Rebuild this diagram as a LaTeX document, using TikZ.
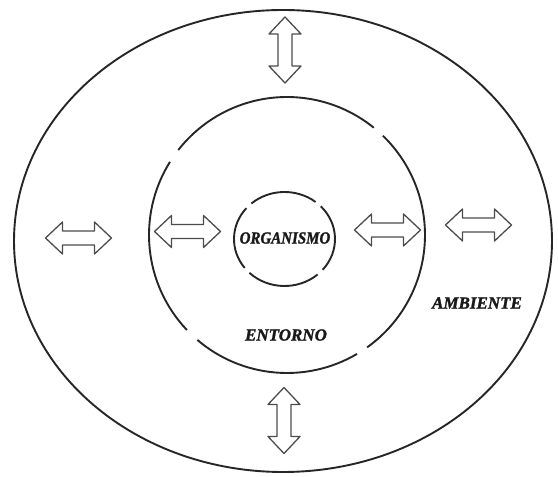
\documentclass[tikz,border=0pt]{standalone}
\usepackage{fontspec}
\setmainfont{Liberation Serif}
\newfontfamily\lblfont[FakeBold=1.6]{Liberation Serif Bold Italic}
\usetikzlibrary{calc}
\begin{document}
\begin{tikzpicture}[x=1pt,y=1pt,
  ring/.style={draw=black!85, line width=1.9pt},
  label/.style={font=\lblfont\fontsize{17}{17}\selectfont, text=black!90, inner sep=0pt},
  hdarrow/.pic={
    \draw[draw=black!70, line width=1.3pt, line join=round, fill=white]
      (-33,0) -- (-16,16) -- (-16,7) -- (16,7) -- (16,16) -- (33,0)
      -- (16,-16) -- (16,-7) -- (-16,-7) -- (-16,-16) -- cycle;
  }]
  \useasboundingbox (0,0) rectangle (558,477);

  % centres of the three enclosures
  \coordinate (amb) at (283,236);
  \coordinate (ent) at (287,242);
  \coordinate (org) at (284.5,238);

  % ambiente: closed outer ellipse
  \draw[ring] (amb) ellipse [x radius=269, y radius=231];

  % entorno: circle broken by four gaps
  \foreach \a/\b in {51/142, 148/223.5, 229.5/300.5, 305.5/406}
    \draw[ring] (ent) ++(\a:138) arc[start angle=\a, end angle=\b, radius=138];

  % organismo: small ellipse broken by four gaps
  \foreach \a/\b in {52/131, 139/218, 226/311, 319/404}
    \draw[ring] (org) ++(\a:50.5 and 47)
      arc[start angle=\a, end angle=\b, x radius=50.5, y radius=47];

  % exchange arrows
  \pic at (78.5,239) {hdarrow};
  \pic at (187.5,245.5) {hdarrow};
  \pic at (387.5,247) {hdarrow};
  \pic at (478.5,252) {hdarrow};
  \pic[rotate=90] at (285,427) {hdarrow};
  \pic[rotate=90] at (284,56.5) {hdarrow};

  % labels
  \node[label, xscale=0.88] (torg) at (285,239) {ORGANISMO};
  \node[label] (tent) at (286,142) {ENTORNO};
  \node[label] (tamb) at (477,174) {AMBIENTE};
\end{tikzpicture}
\end{document}
